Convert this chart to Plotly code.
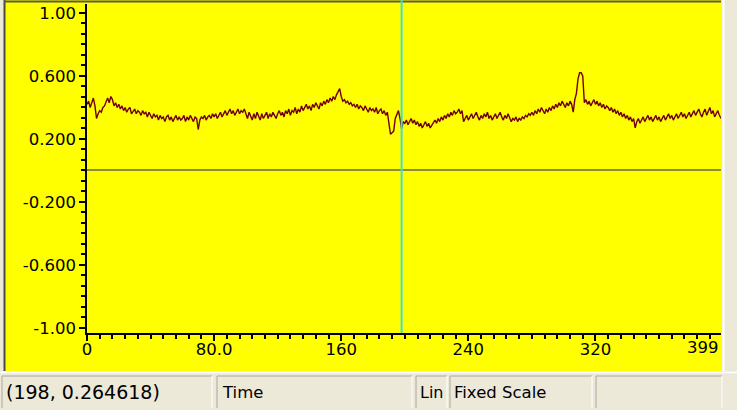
import plotly.graph_objects as go

# ---------------- data ----------------
values = [
    0.42, 0.44, 0.40, 0.43, 0.46, 0.41, 0.33, 0.36, 0.38, 0.37, 0.40, 0.41, 0.44, 0.46, 0.43, 0.47, 0.45, 0.41, 0.43, 0.40,
    0.42, 0.39, 0.41, 0.38, 0.40, 0.37, 0.39, 0.40, 0.36, 0.38, 0.39, 0.36, 0.38, 0.37, 0.35, 0.38, 0.36, 0.37, 0.34, 0.37,
    0.35, 0.33, 0.36, 0.34, 0.35, 0.32, 0.35, 0.33, 0.34, 0.31, 0.34, 0.35, 0.32, 0.34, 0.31, 0.33, 0.35, 0.32, 0.34, 0.32,
    0.33, 0.35, 0.31, 0.34, 0.32, 0.35, 0.33, 0.31, 0.34, 0.33, 0.26, 0.32, 0.34, 0.33, 0.35, 0.32, 0.34, 0.35, 0.33, 0.36,
    0.34, 0.36, 0.33, 0.35, 0.37, 0.34, 0.36, 0.38, 0.35, 0.37, 0.39, 0.36, 0.38, 0.35, 0.37, 0.39, 0.36, 0.38, 0.37, 0.39,
    0.36, 0.33, 0.37, 0.34, 0.32, 0.36, 0.33, 0.37, 0.34, 0.32, 0.36, 0.33, 0.35, 0.37, 0.33, 0.36, 0.34, 0.37, 0.35, 0.33,
    0.36, 0.38, 0.35, 0.37, 0.34, 0.38, 0.36, 0.39, 0.35, 0.38, 0.37, 0.40, 0.36, 0.39, 0.37, 0.41, 0.38, 0.40, 0.42, 0.39,
    0.41, 0.38, 0.42, 0.40, 0.43, 0.41, 0.39, 0.43, 0.41, 0.44, 0.42, 0.45, 0.43, 0.46, 0.44, 0.47, 0.45, 0.48, 0.50, 0.52,
    0.47, 0.44, 0.45, 0.43, 0.44, 0.42, 0.43, 0.41, 0.42, 0.40, 0.42, 0.39, 0.41, 0.40, 0.38, 0.41, 0.39, 0.37, 0.40, 0.38,
    0.39, 0.37, 0.40, 0.36, 0.38, 0.39, 0.36, 0.38, 0.35, 0.37, 0.30, 0.23, 0.24, 0.25, 0.33, 0.36, 0.38, 0.33, 0.264618, 0.31,
    0.30, 0.32, 0.29, 0.31, 0.33, 0.30, 0.32, 0.29, 0.31, 0.28, 0.30, 0.27, 0.29, 0.31, 0.28, 0.30, 0.27, 0.29, 0.30, 0.32,
    0.30, 0.33, 0.31, 0.34, 0.32, 0.35, 0.33, 0.36, 0.34, 0.37, 0.35, 0.38, 0.36, 0.37, 0.39, 0.36, 0.38, 0.31, 0.33, 0.35,
    0.32, 0.34, 0.36, 0.33, 0.35, 0.37, 0.34, 0.32, 0.35, 0.33, 0.36, 0.34, 0.37, 0.33, 0.35, 0.32, 0.34, 0.36, 0.33, 0.35,
    0.37, 0.34, 0.32, 0.35, 0.33, 0.36, 0.34, 0.31, 0.33, 0.32, 0.34, 0.31, 0.33, 0.32, 0.34, 0.33, 0.35, 0.34, 0.36, 0.35,
    0.37, 0.35, 0.38, 0.36, 0.39, 0.37, 0.40, 0.38, 0.36, 0.39, 0.37, 0.40, 0.38, 0.41, 0.39, 0.42, 0.40, 0.43, 0.41, 0.44,
    0.42, 0.40, 0.43, 0.41, 0.44, 0.42, 0.37, 0.45, 0.49, 0.58, 0.62, 0.62, 0.60, 0.43, 0.45, 0.42, 0.44, 0.41, 0.43, 0.45,
    0.42, 0.44, 0.41, 0.43, 0.40, 0.42, 0.39, 0.41, 0.40, 0.38, 0.40, 0.37, 0.39, 0.36, 0.38, 0.35, 0.37, 0.34, 0.36, 0.33,
    0.35, 0.32, 0.34, 0.31, 0.33, 0.27, 0.31, 0.33, 0.30, 0.32, 0.34, 0.31, 0.33, 0.35, 0.32, 0.34, 0.31, 0.33, 0.35, 0.32,
    0.34, 0.31, 0.33, 0.35, 0.32, 0.34, 0.36, 0.33, 0.35, 0.32, 0.34, 0.36, 0.33, 0.35, 0.37, 0.34, 0.36, 0.33, 0.35, 0.37,
    0.34, 0.36, 0.38, 0.35, 0.37, 0.39, 0.36, 0.34, 0.37, 0.39, 0.35, 0.37, 0.40, 0.36, 0.38, 0.34, 0.36, 0.38, 0.35, 0.33,
]
time = list(range(len(values)))

x_tickvals = [0, 80, 160, 240, 320]
x_ticktext = ["0", "80.0", "160", "240", "320"]
x_last = 399
x_last_text = "399"

y_tickvals = [1.0, 0.6, 0.2, -0.2, -0.6, -1.0]
y_ticktext = ["1.00", "0.600", "0.200", "-0.200", "-0.600", "-1.00"]

cursor_t = 198
cursor_v = 0.264618
status_texts = ["({}, {})".format(cursor_t, cursor_v), "Time", "Lin", "Fixed Scale"]

# ---------------- geometry helpers (pixels -> paper) ----------------
W, H = 737, 410
L, R, T, B = 87, 721, 4, 333


def px(p):
    return (p - L) / (R - L)


def py(p):
    return (B - p) / (B - T)


YELLOW = "#FFFF00"
GRAY = "#ECE9D8"
FONT = "DejaVu Sans"

fig = go.Figure()
fig.add_trace(go.Scatter(
    x=time, y=values, mode="lines",
    line=dict(color="#700010", width=1.4),
    hoverinfo="skip", showlegend=False,
))

shapes = []
# yellow chart panel
shapes.append(dict(type="rect", xref="paper", yref="paper", x0=px(5), x1=px(722), y0=py(371), y1=py(0),
                   fillcolor=YELLOW, line=dict(width=0), layer="below"))
# dark left / top border
shapes.append(dict(type="line", xref="paper", yref="paper", x0=px(4.5), x1=px(4.5), y0=py(371), y1=py(0),
                   line=dict(color="#4A4A40", width=2), layer="below"))
shapes.append(dict(type="line", xref="paper", yref="paper", x0=px(4), x1=px(721), y0=py(1.5), y1=py(1.5),
                   line=dict(color="#5A5A48", width=2), layer="below"))
# right light separator
shapes.append(dict(type="line", xref="paper", yref="paper", x0=px(723.5), x1=px(723.5), y0=py(371), y1=py(0),
                   line=dict(color="#FFFFFF", width=2), layer="below"))
# bottom light separator
shapes.append(dict(type="line", xref="paper", yref="paper", x0=px(0), x1=px(737), y0=py(372.5), y1=py(372.5),
                   line=dict(color="#FFFFFF", width=1.5), layer="below"))
# status panels
panels = [(2, 212), (217, 412), (416, 447), (450, 592), (596, 722)]
for a, b in panels:
    shapes.append(dict(type="line", xref="paper", yref="paper", x0=px(a), x1=px(b), y0=py(376), y1=py(376),
                       line=dict(color="#ACA899", width=1), layer="below"))
    shapes.append(dict(type="line", xref="paper", yref="paper", x0=px(a), x1=px(a), y0=py(376), y1=py(408),
                       line=dict(color="#ACA899", width=1), layer="below"))
    shapes.append(dict(type="line", xref="paper", yref="paper", x0=px(b), x1=px(b), y0=py(376), y1=py(408),
                       line=dict(color="#FFFFFF", width=1), layer="below"))
# cursor line
shapes.append(dict(type="line", xref="x", yref="paper", x0=cursor_t, x1=cursor_t, y0=0, y1=py(0),
                   line=dict(color="#40E0D0", width=2), layer="above"))

annotations = []
annotations.append(dict(xref="x", yref="paper", x=x_last, y=py(347), text=x_last_text, showarrow=False,
                        xanchor="right", yanchor="middle", font=dict(family=FONT, size=16.5, color="#000000")))
status_pos = [5, 221, 419, 453]
status_sizes = [19, 16.5, 16, 16.5]
for t, xp, fs in zip(status_texts, status_pos, status_sizes):
    annotations.append(dict(xref="paper", yref="paper", x=px(xp), y=py(392), text=t, showarrow=False,
                            xanchor="left", yanchor="middle", xshift=-1,
                            font=dict(family=FONT, size=fs, color="#000000")))

fig.update_layout(
    width=W, height=H,
    margin=dict(l=L, r=W - R, t=T, b=H - B, pad=0),
    paper_bgcolor=GRAY, plot_bgcolor=YELLOW,
    shapes=shapes, annotations=annotations,
    showlegend=False,
    xaxis=dict(range=[0, 399], showgrid=False, zeroline=False, showline=True, linecolor="#000000", linewidth=1.5,
               tickvals=x_tickvals, ticktext=x_ticktext, ticks="outside", ticklen=6, tickcolor="#000000",
               tickwidth=1.5, ticklabelstandoff=-6,
               minor=dict(dtick=8, tick0=0, ticks="outside", ticklen=4, tickcolor="#000000", tickwidth=1.5,
                          showgrid=False),
               tickfont=dict(family=FONT, size=16.5, color="#000000"), fixedrange=True),
    yaxis=dict(range=[-1.032, 1.057], showgrid=False, zeroline=True, zerolinecolor="#8C8C3C", zerolinewidth=1.5,
               showline=True, linecolor="#000000", linewidth=1.5,
               tickvals=y_tickvals, ticktext=y_ticktext, ticks="outside", ticklen=6, tickcolor="#000000",
               tickwidth=1.5,
               minor=dict(dtick=0.4 / 6, tick0=-1.0, ticks="outside", ticklen=4, tickcolor="#000000",
                          tickwidth=1.5, showgrid=False),
               tickfont=dict(family=FONT, size=16.5, color="#000000"), fixedrange=True),
)

fig.write_html("out.html")
